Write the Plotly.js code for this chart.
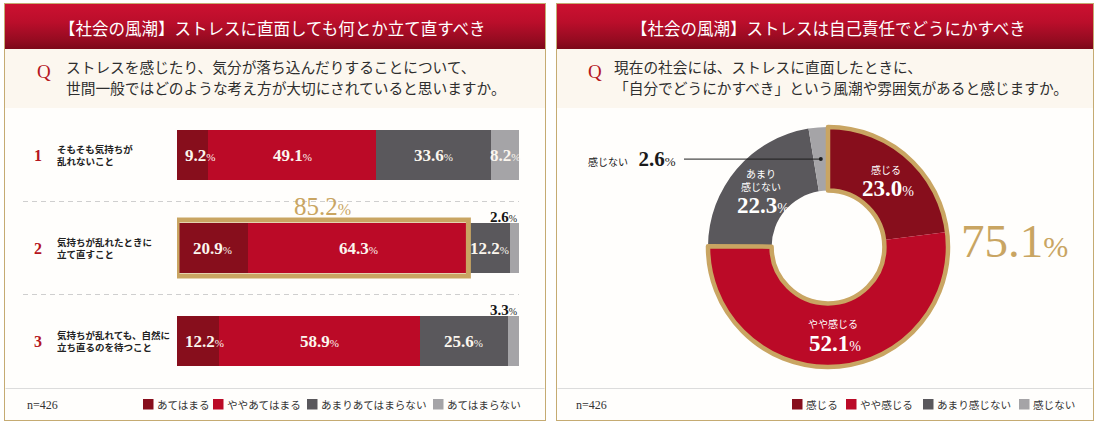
<!DOCTYPE html>
<html lang="ja"><head><meta charset="utf-8">
<script src="https://cdn.plot.ly/plotly-3.0.1.min.js"></script>
<style>
html,body{margin:0;padding:0;background:#fff;}
#wrap{position:relative;width:1096px;height:424px;overflow:hidden;background:#fff;}
.panel{position:absolute;top:3px;height:418px;border:1.5px solid #c5ab72;box-sizing:border-box;background:#fffefc;}
.head{position:absolute;left:0;right:0;top:0;height:45px;background:linear-gradient(180deg,#cc1131 0%,#bb0e2b 40%,#950b21 80%,#7c0819 100%);}
.qbox{position:absolute;left:0;right:0;top:45px;height:59px;background:#fcf7ef;}
#chart{position:absolute;left:0;top:0;width:1096px;height:424px;}
</style></head><body>
<div id="wrap">
 <div class="panel" style="left:4px;width:542px"><div class="head"></div><div class="qbox"></div></div>
 <div class="panel" style="left:556px;width:538px"><div class="head"></div><div class="qbox"></div></div>
 <div id="chart"></div>
</div>
<script>
// ---------- data ----------
const leftTitle = "【社会の風潮】ストレスに直面しても何とか立て直すべき";
const leftQuestion = ["ストレスを感じたり、気分が落ち込んだりすることについて、", "世間一般ではどのような考え方が大切にされていると思いますか。"];
const rightTitle = "【社会の風潮】ストレスは自己責任でどうにかすべき";
const rightQuestion = ["現在の社会には、ストレスに直面したときに、", "「自分でどうにかすべき」という風潮や雰囲気があると感じますか。"];
const rows = ["1", "2", "3"];
const rowLabels = ["そもそも気持ちが<br>乱れないこと", "気持ちが乱れたときに<br>立て直すこと", "気持ちが乱れても、自然に<br>立ち直るのを待つこと"];
const barSeriesNames = ["あてはまる", "ややあてはまる", "あまりあてはまらない", "あてはまらない"];
const atehamaru = [9.2, 20.9, 12.2];
const yayaAtehamaru = [49.1, 64.3, 58.9];
const amariAtehamaranai = [33.6, 12.2, 25.6];
const atehamaranai = [8.2, 2.6, 3.3];
const donutLabels = ["感じる", "やや感じる", "あまり感じない", "感じない"];
const donutSliceText = ["感じる", "やや感じる", "あまり<br>感じない", "感じない"];
const donutValues = [23.0, 52.1, 22.3, 2.6];
const sampleSize = 426;

// ---------- styles ----------
const W = 1096, H = 424;
const px = v => v / W;
const py = v => 1 - v / H;
const SERIF = "Liberation Serif, Noto Sans CJK JP, serif";
const SANS = "Noto Sans CJK JP, sans-serif";
const GOLD = "#c9a562";
const barColors = ["#870e1c", "#bb0a27", "#5a585c", "#a5a4a7"];
const donutColors = ["#870e1c", "#bb0a27", "#5a585c", "#a5a4a7"];
const barValues = [atehamaru, yayaAtehamaru, amariAtehamaranai, atehamaranai];
const pct = (v, d, ps) => `<b>${v.toFixed(d)}</b><span style="font-size:${ps}px">%</span>`;

const traces = [];
barValues.forEach((vals, s) => {
  traces.push({type: "bar", orientation: "h", x: vals, y: rows, name: barSeriesNames[s],
    marker: {color: barColors[s], line: {width: 0}}, width: 0.54, hoverinfo: "none",
    showlegend: false, xaxis: "x", yaxis: "y", textposition: "none"});
});

// donut
const pieLeft = 708, pieRight = 948, pieTop = 127, pieBottom = 367;
const pieDomain = {x: [px(pieLeft), px(pieRight)], y: [py(pieBottom), py(pieTop)]};
const HOLE = 0.47;
traces.push({type: "pie", values: donutValues, labels: donutLabels, sort: false, direction: "clockwise",
  rotation: 0, hole: HOLE, marker: {colors: donutColors, line: {width: 0}}, textinfo: "none",
  hoverinfo: "none", showlegend: false, domain: pieDomain});
const feelTotal = donutValues[0] + donutValues[1];
const restTotal = donutValues[2] + donutValues[3];
traces.push({type: "pie", values: [feelTotal, restTotal], labels: ["感じる（計）", "その他"], sort: false,
  direction: "clockwise", rotation: 0, hole: HOLE,
  marker: {colors: ["rgba(0,0,0,0)", "rgba(0,0,0,0)"], line: {color: [GOLD, "rgba(0,0,0,0)"], width: 4.5}},
  textinfo: "none", hoverinfo: "none", showlegend: false, domain: pieDomain});

const ann = [];
const shapes = [];
const A = o => ann.push(Object.assign({xanchor: "center", yanchor: "middle", showarrow: false}, o));

// titles
A({xref: "paper", yref: "paper", x: px(272), y: py(27.5), text: leftTitle,
  font: {family: SANS, size: 16.5, color: "#ffffff"}});
A({xref: "paper", yref: "paper", x: px(828), y: py(27.5), text: rightTitle,
  font: {family: SANS, size: 16.5, color: "#ffffff"}});

// questions
[[44, 64, leftQuestion], [595, 612, rightQuestion]].forEach(([qx, tx, lines]) => {
  A({xref: "paper", yref: "paper", x: px(qx), y: py(71), text: "Q",
    font: {family: SERIF, size: 19, color: "#b5161e"}});
  lines.forEach((t, k) => A({xref: "paper", yref: "paper", x: px(tx), xanchor: "left",
    y: py(67 + k * 20), text: t, font: {family: SANS, size: 14.7, color: "#2e2e2e"}}));
});

// row numbers and labels (y as category index)
rows.forEach((r, i) => {
  A({xref: "paper", yref: "y", x: px(37.5), y: i, text: `<b>${r}</b>`,
    font: {family: SERIF, size: 16, color: "#b5161e"}});
  A({xref: "paper", yref: "y", x: px(55), xanchor: "left", y: i, text: rowLabels[i], align: "left",
    font: {family: SANS, size: 9.5, color: "#222", weight: "bold"}});
});

// dashed separators between rows
[0.5, 1.5].forEach(yy => shapes.push({type: "line", xref: "paper", yref: "y", x0: px(23), x1: px(519),
  y0: yy, y1: yy, line: {color: "#cfcfcf", width: 1, dash: "5px,4px"}}));

// bar value labels
rows.forEach((r, i) => {
  let cum = 0;
  barValues.forEach((vals, s) => {
    const v = vals[i];
    if (v >= 5) {
      const narrowFirst = s === 0 && v < 15;
      A({xref: "x", yref: "y", x: narrowFirst ? cum : cum + v / 2, xanchor: narrowFirst ? "left" : "center",
        xshift: narrowFirst ? 6 : 0, y: i, text: pct(v, 1, 11),
        font: {family: SERIF, size: 17, color: "#fbf6ee"}});
    } else {
      A({xref: "x", yref: "y", x: cum + v, xanchor: "right", y: i, yshift: 31, text: pct(v, 1, 10),
        font: {family: SERIF, size: 15, color: "#161616"}});
    }
    cum += v;
  });
});

// highlight frame (row 2, top-2 total)
const top2 = atehamaru[1] + yayaAtehamaru[1];
shapes.push({type: "rect", xref: "x", yref: "y", x0: 0, x1: top2, y0: 1 - 0.3, y1: 1 + 0.3,
  line: {color: GOLD, width: 5}, fillcolor: "rgba(0,0,0,0)", layer: "above"});
A({xref: "x", yref: "y", x: top2 / 2, y: 1, yshift: 42,
  text: `${top2.toFixed(1)}<span style="font-size:16px">%</span>`,
  font: {family: SERIF, size: 25, color: GOLD}});

// donut labels
const cx = (pieLeft + pieRight) / 2, cy = (pieTop + pieBottom) / 2, R = (pieRight - pieLeft) / 2;
const rLab = (R + R * HOLE) / 2;
let acc = 0;
const total = donutValues.reduce((a, b) => a + b, 0);
donutValues.forEach((v, i) => {
  const mid = (acc + v / 2) / total * 2 * Math.PI;
  acc += v;
  const lx = cx + rLab * Math.sin(mid), ly = cy - rLab * Math.cos(mid);
  if (v >= 5) {
    const multi = donutSliceText[i].includes("<br>");
    const base = ly + (multi ? 8 : 0);
    A({xref: "paper", yref: "paper", x: px(lx), y: py(base - 2), yanchor: "bottom", text: donutSliceText[i],
      font: {family: SANS, size: 10, color: "#ffffff"}});
    A({xref: "paper", yref: "paper", x: px(lx + 2), y: py(base + 8), text: pct(v, 1, 14),
      font: {family: SERIF, size: 23, color: "#ffffff"}});
  } else {
    const lineEnd = lx, lineStart = 684;
    shapes.push({type: "line", xref: "paper", yref: "paper", x0: px(lineStart), x1: px(lineEnd), y0: py(ly), y1: py(ly),
      line: {color: "#1e1e1e", width: 1}});
    shapes.push({type: "circle", xref: "paper", yref: "paper", x0: px(lineEnd - 2), x1: px(lineEnd + 2),
      y0: py(ly + 2), y1: py(ly - 2), fillcolor: "#1e1e1e", line: {width: 0}});
    A({xref: "paper", yref: "paper", x: px(lineStart - 6), xanchor: "right", y: py(ly),
      text: `<span style="font-size:10px">${donutSliceText[i]}</span>  ${pct(v, 1, 13)}`,
      font: {family: SERIF, size: 21, color: "#1a1a1a"}});
  }
});
A({xref: "paper", yref: "paper", x: px(1014), y: py(241),
  text: `${feelTotal.toFixed(1)}<span style="font-size:30px">%</span>`,
  font: {family: SERIF, size: 47, color: GOLD}});

// footers: separator, n, legend
[[5.5, 544.5], [557.5, 1092.5]].forEach(([a, b]) => shapes.push({type: "line", xref: "paper", yref: "paper",
  x0: px(a), x1: px(b), y0: py(388.5), y1: py(388.5), line: {color: "#dcdcdc", width: 1}}));
[25, 574].forEach(nx => A({xref: "paper", yref: "paper", x: px(nx), xanchor: "left", y: py(405),
  text: `n=${sampleSize}`, font: {family: SERIF, size: 12, color: "#333"}}));
const legendLeftX = [143, 213, 307, 433];
const legendRightX = [792, 846, 923, 1019];
[[legendLeftX, barSeriesNames, barColors], [legendRightX, donutLabels, donutColors]].forEach(([xs, names, cols]) => {
  xs.forEach((sx, k) => {
    shapes.push({type: "rect", xref: "paper", yref: "paper", x0: px(sx), x1: px(sx + 10.5),
      y0: py(409.5), y1: py(399), fillcolor: cols[k], line: {width: 0}});
    A({xref: "paper", yref: "paper", x: px(sx + 12), xanchor: "left", y: py(404.5), text: names[k],
      font: {family: SANS, size: 10.6, color: "#333"}});
  });
});

const layout = {
  width: W, height: H, margin: {l: 0, r: 0, t: 0, b: 0},
  paper_bgcolor: "rgba(0,0,0,0)", plot_bgcolor: "rgba(0,0,0,0)",
  barmode: "stack", showlegend: false,
  xaxis: {domain: [px(177), px(519)], range: [0, 100], visible: false, fixedrange: true},
  yaxis: {domain: [py(387.5), py(108.5)], type: "category", categoryarray: rows, range: [2.5, -0.5],
    visible: false, fixedrange: true},
  annotations: ann, shapes: shapes
};
Plotly.newPlot("chart", traces, layout, {staticPlot: true, displayModeBar: false});
</script>
</body></html>
